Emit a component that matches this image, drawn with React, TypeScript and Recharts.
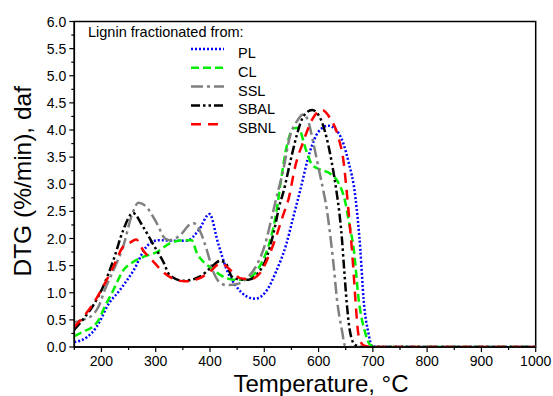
import { LineChart, Line, XAxis, YAxis, ReferenceArea, Legend } from "recharts";

// temperatures (°C) and DTG values (%/min, daf)
const plT = [150, 173, 191, 200, 210, 234, 259, 283, 305, 326, 357, 379, 399, 415, 431, 449, 468, 483, 505, 523, 541, 551, 566, 584, 600, 618, 637, 655, 668, 677, 683, 692, 698, 710, 1000];
const plV = [0.09, 0.18, 0.37, 0.53, 0.74, 1.05, 1.41, 1.85, 1.97, 1.96, 1.96, 2.15, 2.45, 1.91, 1.42, 1.11, 0.93, 0.89, 1.05, 1.42, 1.91, 2.3, 2.88, 3.6, 3.97, 4.08, 3.94, 3.42, 2.75, 1.79, 0.87, 0.25, 0.02, 0, 0];

const clT = [150, 170, 185, 195, 205, 222, 240, 259, 277, 302, 326, 351, 366, 376, 388, 403, 422, 443, 465, 480, 496, 511, 523, 529, 542, 554, 562, 578, 588, 603, 621, 637, 649, 656, 665, 674, 686, 695, 710, 1000];
const clV = [0.2, 0.3, 0.38, 0.5, 0.72, 1.05, 1.41, 1.57, 1.66, 1.75, 1.91, 1.97, 1.97, 1.73, 1.57, 1.45, 1.31, 1.24, 1.24, 1.33, 1.57, 1.97, 2.53, 2.95, 3.73, 4.03, 4.04, 3.6, 3.36, 3.27, 3.2, 3.02, 2.68, 2.3, 1.79, 0.87, 0.26, 0.04, 0, 0];

const sslT = [150, 165, 180, 195, 206, 225, 240, 256, 268, 280, 302, 317, 326, 345, 363, 370, 382, 394, 406, 419, 431, 450, 468, 486, 502, 514, 526, 533, 548, 560, 572, 581, 591, 600, 609, 615, 621, 628, 634, 643, 649, 660, 1000];
const sslV = [0.45, 0.5, 0.56, 0.75, 1.05, 1.48, 1.85, 2.43, 2.66, 2.61, 2.28, 2.0, 1.97, 2.06, 2.26, 2.28, 2.13, 1.79, 1.39, 1.18, 1.14, 1.16, 1.27, 1.51, 1.91, 2.4, 2.9, 3.17, 3.91, 4.16, 4.29, 4.16, 3.73, 3.3, 2.87, 2.55, 2.1, 1.48, 0.87, 0.31, 0.02, 0, 0];

const sbalT = [150, 167, 185, 203, 222, 240, 258, 277, 296, 314, 326, 351, 382, 400, 419, 431, 440, 452, 471, 486, 505, 517, 529, 535, 548, 560, 572, 588, 603, 615, 624, 634, 638, 643, 647, 652, 658, 667, 680, 1000];
const sbalV = [0.32, 0.52, 0.77, 1.11, 1.6, 2.15, 2.47, 2.21, 1.88, 1.57, 1.32, 1.22, 1.3, 1.45, 1.59, 1.51, 1.3, 1.25, 1.24, 1.33, 1.67, 2.1, 2.65, 2.85, 3.42, 3.91, 4.25, 4.37, 4.22, 3.85, 3.42, 2.8, 2.5, 2.0, 1.45, 0.8, 0.28, 0.04, 0, 0];

const sbnlT = [150, 167, 185, 203, 222, 240, 252, 264, 277, 296, 314, 332, 354, 379, 400, 419, 431, 443, 455, 474, 492, 508, 523, 535, 545, 557, 572, 588, 606, 621, 637, 646, 652, 657, 661, 665, 668, 674, 683, 700, 1000];
const sbnlV = [0.37, 0.56, 0.8, 1.11, 1.48, 1.85, 1.92, 1.98, 1.78, 1.57, 1.38, 1.26, 1.21, 1.26, 1.39, 1.54, 1.48, 1.37, 1.27, 1.25, 1.36, 1.67, 2.07, 2.44, 2.74, 3.33, 3.79, 4.19, 4.37, 4.22, 3.85, 3.42, 2.85, 2.3, 1.85, 1.3, 0.85, 0.2, 0.03, 0, 0];

const xMajor = [200, 300, 400, 500, 600, 700, 800, 900, 1000];
const xMinor = [150, 250, 350, 450, 550, 650, 750, 850, 950];
const yMajor = [0, 0.5, 1, 1.5, 2, 2.5, 3, 3.5, 4, 4.5, 5, 5.5, 6];
const yMinor = [0.25, 0.75, 1.25, 1.75, 2.25, 2.75, 3.25, 3.75, 4.25, 4.75, 5.25, 5.75];

const toPoints = (t: number[], v: number[]) => t.map((x, i) => ({ t: x, v: v[i] }));

const series = [
  { name: "PL", color: "#0000ff", dash: "2 2", data: toPoints(plT, plV) },
  { name: "CL", color: "#00ee00", dash: "8 4", data: toPoints(clT, clV) },
  { name: "SSL", color: "#808080", dash: "12 4 3 4", data: toPoints(sslT, sslV) },
  { name: "SBAL", color: "#000000", dash: "9 3 2.5 3 2.5 3", data: toPoints(sbalT, sbalV) },
  { name: "SBNL", color: "#ff0000", dash: "10 7", data: toPoints(sbnlT, sbnlV) },
];

const FONT = '"Liberation Sans", Arial, sans-serif';

const XTick = (props: any) => {
  const { x, y, payload } = props;
  const major = xMajor.includes(payload.value);
  return (
    <g>
      <line x1={x} x2={x} y1={y} y2={y + (major ? 5 : 3)} stroke="#000" strokeWidth={1.2} />
      {major && (
        <text x={x} y={y + 19} textAnchor="middle" fontSize={14} fontFamily={FONT} fill="#000">
          {payload.value}
        </text>
      )}
    </g>
  );
};

const YTick = (props: any) => {
  const { x, y, payload } = props;
  const major = yMajor.includes(payload.value);
  return (
    <g>
      <line x1={x} x2={x - (major ? 5 : 3)} y1={y} y2={y} stroke="#000" strokeWidth={1.2} />
      {major && (
        <text x={x - 8} y={y + 5} textAnchor="end" fontSize={14} fontFamily={FONT} fill="#000">
          {payload.value.toFixed(1)}
        </text>
      )}
    </g>
  );
};

const renderLegend = () => (
  <svg width={200} height={120} style={{ display: "block" }}>
    <text x={8} y={16} fontSize={14.5} fontFamily={FONT} fill="#000">
      Lignin fractionated from:
    </text>
    {series.map((s, i) => (
      <g key={s.name}>
        <line x1={111} x2={144} y1={28 + i * 18.8} y2={28 + i * 18.8} stroke={s.color} strokeWidth={2.5} strokeDasharray={s.dash} />
        <text x={158} y={37 + i * 18.8} fontSize={14.5} fontFamily={FONT} fill="#000">
          {s.name}
        </text>
      </g>
    ))}
  </svg>
);

export default function App() {
  return (
    <div style={{ position: "absolute", left: 0, top: 0, background: "#fff" }}>
      <LineChart width={553} height={396} margin={{ top: 21.5, right: 17.3, bottom: 0, left: 0 }}>
        <ReferenceArea x1={150} x2={1000} y1={0} y2={6} fill="none" stroke="#000" strokeWidth={1.5} />
        <XAxis
          dataKey="t"
          type="number"
          domain={[150, 1000]}
          ticks={[...xMinor, ...xMajor].sort((a, b) => a - b)}
          interval={0}
          height={49}
          tickSize={0}
          tickMargin={0}
          tickLine={false}
          tick={<XTick />}
          axisLine={{ stroke: "#000", strokeWidth: 1.5 }}
          allowDataOverflow
          label={(p: any) => {
            const vb = p.viewBox;
            return (
              <text x={vb.x + vb.width / 2 + 16} y={392} textAnchor="middle" fontSize={24} fontFamily={FONT} fill="#000">
                Temperature, °C
              </text>
            );
          }}
        />
        <YAxis
          type="number"
          domain={[0, 6]}
          ticks={[...yMinor, ...yMajor].sort((a, b) => a - b)}
          interval={0}
          width={74.3}
          tickSize={0}
          tickMargin={0}
          tickLine={false}
          tick={<YTick />}
          axisLine={{ stroke: "#000", strokeWidth: 1.5 }}
          allowDataOverflow
          label={(p: any) => {
            const vb = p.viewBox;
            const cx = 31;
            const cy = vb.y + vb.height / 2 - 3;
            return (
              <text x={cx} y={cy} transform={`rotate(-90 ${cx} ${cy})`} textAnchor="middle" fontSize={24.5} fontFamily={FONT} fill="#000">
                DTG (%/min), daf
              </text>
            );
          }}
        />
        <Legend
          layout="horizontal"
          verticalAlign="middle"
          align="center"
          content={renderLegend}
          wrapperStyle={{ left: 80, top: 21, width: 200, height: 120 }}
        />
        {series.map((s) => (
          <Line
            key={s.name}
            data={s.data}
            dataKey="v"
            name={s.name}
            type="monotone"
            stroke={s.color}
            strokeWidth={2.5}
            strokeDasharray={s.dash}
            dot={false}
            activeDot={false}
            isAnimationActive={false}
          />
        ))}
      </LineChart>
    </div>
  );
}
